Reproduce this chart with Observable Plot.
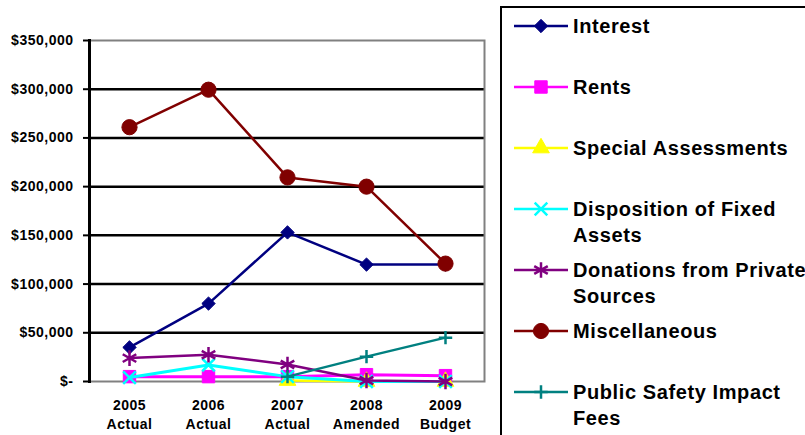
<!DOCTYPE html>
<html>
<head>
<meta charset="utf-8">
<script src="https://cdn.jsdelivr.net/npm/d3@7"></script>
<script src="https://cdn.jsdelivr.net/npm/@observablehq/plot@0.6"></script>
<style>
  html, body { margin: 0; padding: 0; background: #fff; }
  #wrap { position: relative; width: 805px; height: 435px; overflow: hidden; background: #fff;
          font-family: "Liberation Sans", Arial, sans-serif; font-weight: bold; }
  #chart { position: absolute; left: 0; top: 0; }
  #legend { position: absolute; left: 500px; top: 6px; width: 330px; height: 450px;
            border: 2px solid #000; background: #fff; box-sizing: border-box; padding-top: 5px; }
  .row { display: flex; align-items: flex-start; height: 61px; }
  .sw { margin-left: 11px; width: 56px; height: 26px; flex: none; }
  .lbl { margin-left: 4px; font-size: 20px; line-height: 26px; white-space: pre; color: #000; letter-spacing: 0.6px; }
</style>
</head>
<body>
<div id="wrap">
  <div id="chart"></div>
  <div id="legend"></div>
</div>
<script>
// ---- data ----
const categories = ["2005\nActual", "2006\nActual", "2007\nActual", "2008\nAmended", "2009\nBudget"];
const seriesNames = ["Interest", "Rents", "Special Assessments", "Disposition of Fixed Assets",
  "Donations from Private Sources", "Miscellaneous", "Public Safety Impact Fees"];
const legendLabels = ["Interest", "Rents", "Special Assessments", "Disposition of Fixed\nAssets",
  "Donations from Private\nSources", "Miscellaneous", "Public Safety Impact\nFees"];
const interest      = [35000, 80000, 153000, 120000, 120000];
const rents         = [5000, 5000, 5000, 7000, 6000];
const special       = [null, null, 1000, 0, 0];
const disposition   = [4000, 17000, 5000, 0, 0];
const donations     = [24000, 27500, 17500, 1000, 0];
const miscellaneous = [261000, 299500, 209500, 200000, 121000];
const publicSafety  = [null, null, 5000, 25500, 45000];
const yTicks = [0, 50000, 100000, 150000, 200000, 250000, 300000, 350000];

const seriesValues = [interest, rents, special, disposition, donations, miscellaneous, publicSafety];
const colors  = ["#000080", "#FF00FF", "#FFFF00", "#00FFFF", "#800080", "#800000", "#008080"];
const symbols = ["diamond2", "square", "triangle", "times", "asterisk", "circle", "plus"];
const filled  = [true, true, true, false, false, true, false];
const radii   = [6.0, 7.0, 6.2, 5.8, 7.4, 7.6, 4.4];
const lineW   = [2.5, 3, 2.5, 3, 2.5, 2.5, 2.5];

const rows = [];
seriesNames.forEach((s, i) => {
  seriesValues[i].forEach((v, j) => {
    if (v != null) rows.push({series: s, cat: categories[j], value: v});
  });
});

const fmt = d => d === 0 ? "$-" : "$" + d3.format(",")(d);

const marks = [
  Plot.ruleY(yTicks.filter(d => d > 0 && d < 350000), {stroke: "#000", strokeWidth: 2.5}),
  Plot.frame({stroke: "#808080", strokeWidth: 2}),
  Plot.frame({anchor: "left", stroke: "#000", strokeWidth: 3}),
  Plot.axisY({ticks: yTicks, tickFormat: fmt, tickSize: 6, tickPadding: 10, strokeWidth: 2,
              fontSize: 14, fontWeight: "bold", label: null}),
  Plot.axisX({tickSize: 0, tickPadding: 15, lineHeight: 1.36, fontSize: 14, fontWeight: "bold", label: null})
];
seriesNames.forEach((s, i) => {
  const d = rows.filter(r => r.series === s);
  marks.push(Plot.line(d, {x: "cat", y: "value", stroke: colors[i], strokeWidth: lineW[i]}));
  marks.push(Plot.dot(d, {x: "cat", y: "value", symbol: () => symbols[i], r: radii[i],
    fill: filled[i] ? colors[i] : "none", stroke: colors[i], strokeWidth: filled[i] ? 1 : 2.5}));
});

const chart = Plot.plot({
  width: 490, height: 435,
  marginLeft: 89, marginRight: 6, marginTop: 40, marginBottom: 54,
  x: {type: "point", domain: categories, padding: 0.5, axis: null},
  y: {domain: [0, 350000], axis: null},
  symbol: {type: "identity"},
  style: {fontFamily: "'Liberation Sans', Arial, sans-serif", fontWeight: "bold", color: "#000",
          background: "#fff", letterSpacing: "0.5px", overflow: "visible"},
  marks
});
document.getElementById("chart").appendChild(chart);

// ---- legend ----
const leg = d3.select("#legend");
const symMap = {diamond2: d3.symbolDiamond2, square: d3.symbolSquare, triangle: d3.symbolTriangle,
  times: d3.symbolTimes, asterisk: d3.symbolAsterisk, circle: d3.symbolCircle, plus: d3.symbolPlus};
seriesNames.forEach((s, i) => {
  const row = leg.append("div").attr("class", "row");
  const svg = row.append("svg").attr("class", "sw").attr("width", 56).attr("height", 26);
  svg.append("line").attr("x1", 1).attr("x2", 55).attr("y1", 13).attr("y2", 13)
    .attr("stroke", colors[i]).attr("stroke-width", 2.5);
  svg.append("path").attr("transform", "translate(28,13)")
    .attr("d", d3.symbol(symMap[symbols[i]], Math.PI * radii[i] * radii[i])())
    .attr("fill", filled[i] ? colors[i] : "none").attr("stroke", colors[i])
    .attr("stroke-width", filled[i] ? 1 : 2.5);
  row.append("div").attr("class", "lbl").text(legendLabels[i]);
});
</script>
</body>
</html>
